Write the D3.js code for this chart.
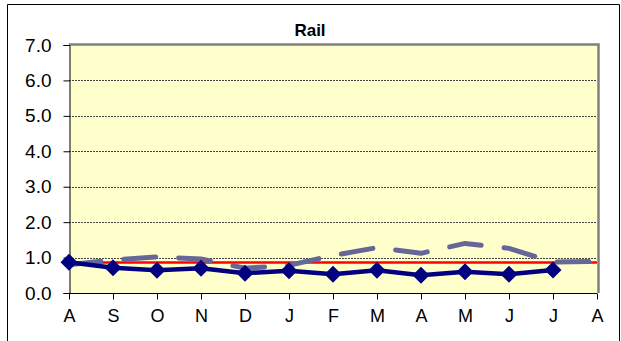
<!DOCTYPE html>
<html><head><meta charset="utf-8">
<script src="https://cdn.jsdelivr.net/npm/d3@7"></script>
<style>body{margin:0;background:#fff}svg{display:block}text{font-family:Arial,"Liberation Sans",sans-serif}</style>
</head><body><svg id="c" width="621" height="341"></svg>
<script>
const months = ["A","S","O","N","D","J","F","M","A","M","J","J","A"];
const actual = [0.87, 0.71, 0.64, 0.70, 0.56, 0.63, 0.53, 0.64, 0.50, 0.60, 0.53, 0.65];
const lastYear = [0.80, 0.93, 1.02, 0.96, 0.70, 0.78, 1.06, 1.28, 1.12, 1.40, 1.26, 0.87, 0.89];
const targetValue = 0.86;
const target = months.map(() => targetValue);
const yTicks = [0, 1, 2, 3, 4, 5, 6, 7];
const title = "Rail";

const svg = d3.select("#c");
const L = 69, R = 597, T = 45, B = 293;
const x = d3.scalePoint().domain(d3.range(months.length)).range([L, R]);
const y = d3.scaleLinear().domain([0, 7]).range([B, T]);

// outer frame
svg.append("path").attr("d", "M7.5,345V4.5H619.5V345").attr("fill", "none").attr("stroke", "#000").attr("stroke-width", 1);

// plot area
svg.append("rect").attr("x", L).attr("y", T).attr("width", R - L).attr("height", B - T).attr("fill", "#FFFFCC");

// gridlines
svg.append("g").selectAll("line").data(yTicks.filter(v => v > 0 && v < 7)).join("line")
  .attr("x1", L).attr("x2", R).attr("y1", d => Math.round(y(d)) + 0.5).attr("y2", d => Math.round(y(d)) + 0.5)
  .attr("stroke", "#444").attr("stroke-width", 1).attr("stroke-dasharray", "2,1");

// plot border shading (top/right)
svg.append("path").attr("d", `M${L},${T - 0.5}H${R + 1.5}V${B}`).attr("fill", "none").attr("stroke", "#808080").attr("stroke-width", 2.5);

// y axis
const yAxis = d3.axisLeft(y).tickValues(yTicks).tickFormat(d3.format(".1f")).tickSize(6).tickPadding(12);
const gy = svg.append("g").attr("transform", `translate(${L + 0.5},0)`).call(yAxis);
gy.select(".domain").attr("stroke", "#000");
gy.selectAll("text").attr("font-size", 19).attr("fill", "#000");

// x axis
const xAxis = d3.axisBottom(x).tickFormat(i => months[i]).tickSize(6).tickPadding(10);
const gx = svg.append("g").attr("transform", `translate(0,${B + 0.5})`).call(xAxis);
gx.select(".domain").attr("stroke", "#000").attr("d", `M${L},0H${R}`);
gx.selectAll("text").attr("font-size", 18).attr("fill", "#000");
gx.selectAll(".tick line").attr("stroke", "#000");
gy.selectAll(".tick line").attr("stroke", "#000");

const line = d3.line().x((d, i) => x(i)).y(d => y(d));

// target red line
svg.append("path").datum(target).attr("d", line).attr("fill", "none").attr("stroke", "#FF0000").attr("stroke-width", 2.5);

// last year dashed
svg.append("path").datum(lastYear).attr("d", line).attr("fill", "none")
  .attr("stroke", "#666699").attr("stroke-width", 5).attr("stroke-linecap", "round")
  .attr("stroke-linejoin", "round").attr("stroke-dasharray", "32,23");

// actual navy
svg.append("path").datum(actual).attr("d", line).attr("fill", "none")
  .attr("stroke", "#000080").attr("stroke-width", 4.5).attr("stroke-linejoin", "round");

const diamond = "M0,-8.5L8.5,0L0,8.5L-8.5,0Z";
svg.append("g").selectAll("path").data(actual).join("path")
  .attr("transform", (d, i) => `translate(${x(i)},${y(d)})`)
  .attr("d", diamond).attr("fill", "#000080");

// title
svg.append("text").attr("x", 310).attr("y", 35.5).attr("text-anchor", "middle")
  .attr("font-size", 17).attr("font-weight", "bold").text(title);
</script></body></html>
